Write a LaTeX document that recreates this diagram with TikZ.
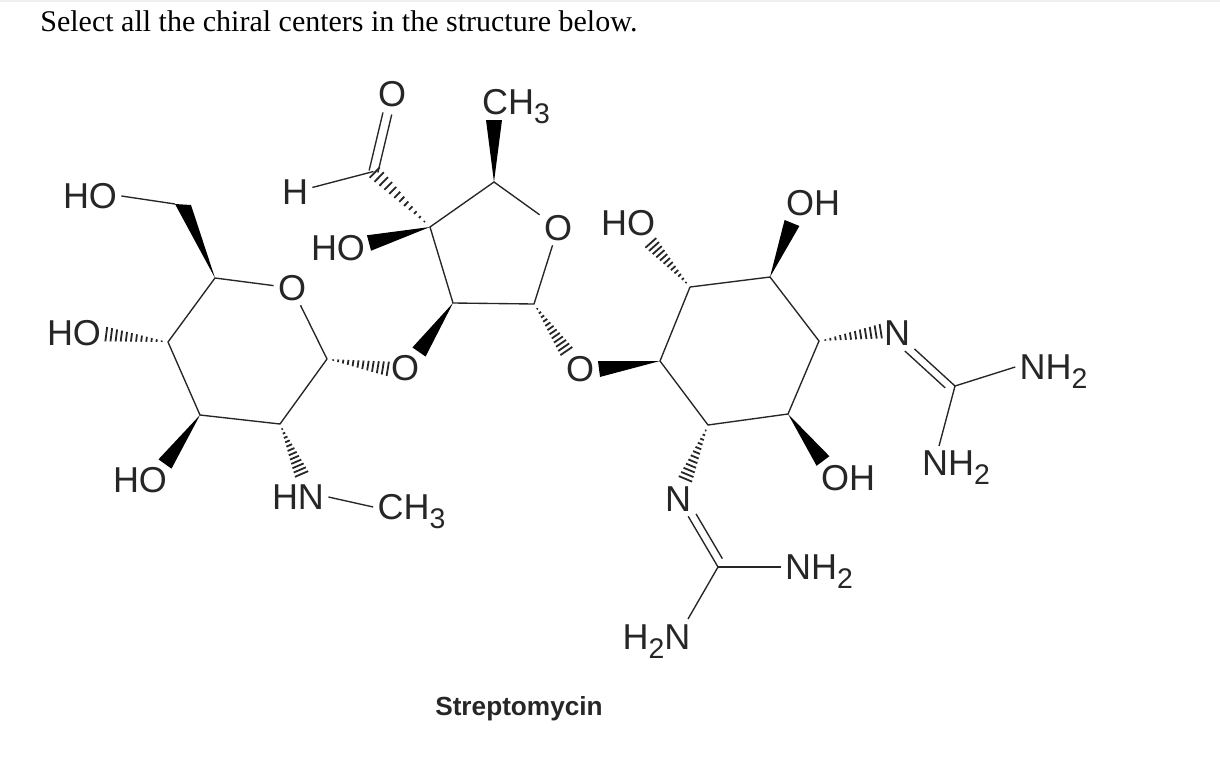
\documentclass[tikz,border=0pt]{standalone}
\usepackage{fontspec}
\setmainfont{Liberation Sans}
\newfontfamily\headfont{Liberation Serif}
\usetikzlibrary{calc}
\definecolor{ink}{HTML}{262626}
\newcommand{\atomsub}[1]{\raisebox{-4.2pt}{\fontsize{14.2}{14.2}\selectfont #1}}
\tikzset{
  atom/.style={font=\fontsize{18}{18}\selectfont,text=ink,inner sep=2pt,text height=12.9pt,text depth=0pt},
  bond/.style={draw=ink,line width=.68pt},
  wedgebond/.style={fill=black,draw=none,to path={(\tikztostart) -- ($(\tikztotarget)!#1!90:(\tikztostart)$) -- ($(\tikztotarget)!#1!-90:(\tikztostart)$) -- cycle}},
  wedgebond/.default=4pt,
  hashbond/.style={draw=ink,line width=.9pt,to path={
    foreach \t in {0.1,0.18,...,1.01}{
      ($(\tikztostart)!\t!(\tikztotarget)!{\t*#1}!90:(\tikztotarget)$) -- ($(\tikztostart)!\t!(\tikztotarget)!{\t*#1}!-90:(\tikztotarget)$)
    }}},
  hashbond/.default=3.7pt
}
\begin{document}
\begin{tikzpicture}[x=.5pt,y=-.5pt]
\useasboundingbox (0,0) rectangle (1220,776);
\fill[gray!12] (0,0) rectangle (1220,2);
\node[font=\headfont\fontsize{15}{15}\selectfont,text=black,anchor=base west,inner sep=0pt] (question) at (40,32) {Select all the chiral centers in the structure below.};
\node[font=\bfseries\fontsize{13.1}{13.1}\selectfont,text=ink,inner sep=0pt] (title) at (519,709) {Streptomycin};

% left ring
\coordinate (la) at (215,278);
\coordinate (lb) at (168,342);
\coordinate (lc) at (200,415);
\coordinate (ld) at (280,424);
\coordinate (le) at (327,359);
\coordinate (lcha) at (175,204);
\coordinate (lchb) at (191,205);
\node[atom] (lo) at (292,288) {O};
\node[atom] (hoa) at (90,196) {HO};
\node[atom] (hob) at (74,333) {HO};
\node[atom] (hoc) at (140,480) {HO};
\node[atom] (nha) at (298,497) {HN};
\node[atom] (cha) at (411.5,507) {CH\atomsub{3}};
\node[atom] (oa) at (405,368) {O};
\coordinate (hbend) at (105,334);
\coordinate (hcend) at (165,464);
\coordinate (hdend) at (302,475);
\coordinate (heend) at (389,369);
\draw[bond] (la) -- (lb) -- (lc) -- (ld) -- (le);
\draw[bond] (la) -- (lo);
\draw[bond] (lo) -- (le);
\draw[bond] (hoa.east) -- (lcha);
\draw[bond] (nha.east) -- (cha.west);
\fill[black] (la) -- (lcha) -- (lchb) -- cycle;
\draw[hashbond] (lb) to (hbend);
\draw[wedgebond] (lc) to (hcend);
\draw[hashbond] (ld) to (hdend);
\draw[hashbond] (le) to (heend);

% five membered ring
\coordinate (fa) at (430,227);
\coordinate (fb) at (494,182);
\coordinate (fc) at (534,304);
\coordinate (fd) at (453,303);
\coordinate (cho) at (373.5,171.5);
\coordinate (fbend) at (494,120);
\coordinate (faoend) at (369,243);
\coordinate (fdend) at (419,352);
\coordinate (fcend) at (567,352);
\node[atom] (fo) at (558,228) {O};
\node[atom] (chb) at (516,102) {CH\atomsub{3}};
\node[atom] (oc) at (392,94) {O};
\node[atom] (hald) at (295,192) {H};
\node[atom] (hod) at (338,248) {HO};
\node[atom] (ob) at (580,369) {O};
\draw[bond] (fo) -- (fb) -- (fa) -- (fd) -- (fc) -- (fo);
\draw[bond] (hald) -- (cho);
\draw[bond,shorten >=10pt] ($(cho)!2.25pt!90:(oc)$) -- ($(oc)!2.25pt!-90:(cho)$);
\draw[bond,shorten >=10pt] ($(cho)!2.25pt!-90:(oc)$) -- ($(oc)!2.25pt!90:(cho)$);
\draw[hashbond] (fa) to (cho);
\draw[wedgebond] (fb) to (fbend);
\draw[wedgebond] (fa) to (faoend);
\draw[wedgebond] (fd) to (fdend);
\draw[hashbond] (fc) to (fcend);

% right ring
\coordinate (ra) at (690,287);
\coordinate (rb) at (770,277);
\coordinate (rc) at (819,341);
\coordinate (rd) at (788,414);
\coordinate (re) at (708,425);
\coordinate (rf) at (660,361);
\coordinate (raend) at (650,242);
\coordinate (rbend) at (792,223);
\coordinate (rcend) at (882,331);
\coordinate (rdend) at (823,461);
\coordinate (reend) at (685,480);
\coordinate (rfend) at (599,369);
\coordinate (gua) at (955,386);
\coordinate (gub) at (718,567);
\coordinate (nhcend) at (939,446);
\coordinate (nheend) at (688,619);
\node[atom] (hoe) at (628,223) {HO};
\node[atom] (ohf) at (813,203) {OH};
\node[atom] (ohg) at (848,478) {OH};
\node[atom] (na) at (897,333) {N};
\node[atom] (nb) at (678,499) {N};
\node[atom] (nhb) at (1053.5,367) {NH\atomsub{2}};
\node[atom] (nhc) at (956,463) {NH\atomsub{2}};
\node[atom] (nhd) at (819,567) {NH\atomsub{2}};
\node[atom] (nhe) at (656.5,637) {H\atomsub{2}N};
\draw[bond] (ra) -- (rb) -- (rc) -- (rd) -- (re) -- (rf) -- (ra);
\draw[hashbond] (ra) to (raend);
\draw[wedgebond] (rb) to (rbend);
\draw[hashbond] (rc) to (rcend);
\draw[wedgebond] (rd) to (rdend);
\draw[hashbond] (re) to (reend);
\draw[wedgebond] (rf) to (rfend);
\draw[bond] (gua) -- (na);
\draw[bond,shorten <=3pt,shorten >=9pt] ($(gua)!4pt!90:(na)$) -- ($(na)!4pt!-90:(gua)$);
\draw[bond] (gua) -- (nhb.west);
\draw[bond] (gua) -- (nhcend);
\draw[bond] (gub) -- (nb);
\draw[bond,shorten <=2.5pt,shorten >=11pt] ($(gub)!4pt!-90:(nb)$) -- ($(nb)!4pt!90:(gub)$);
\draw[bond] (gub) -- (nhd.west);
\draw[bond] (gub) -- (nheend);
\end{tikzpicture}
\end{document}
